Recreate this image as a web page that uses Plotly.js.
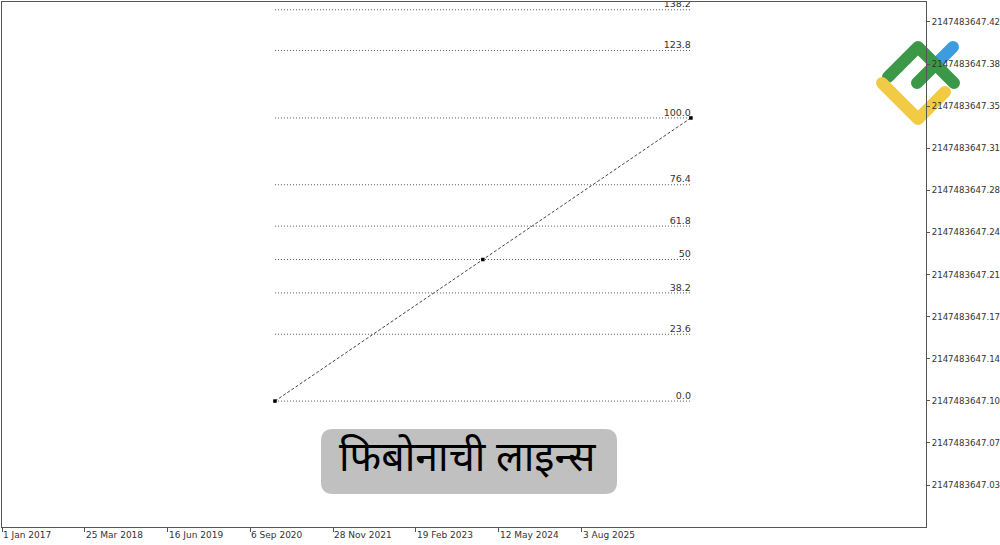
<!DOCTYPE html>
<html>
<head>
<meta charset="utf-8">
<script src="https://cdn.plot.ly/plotly-3.0.1.min.js"></script>
<style>html,body{margin:0;padding:0;background:#fff;}#chart{width:1000px;height:545px;}</style>
</head>
<body>
<div id="chart"></div>
<script>
// ---- data ----
const yTickVals = [0.035, 0.07, 0.105, 0.14, 0.175, 0.21, 0.245, 0.28, 0.315, 0.35, 0.385, 0.42];
const yTickText = ['2147483647.03', '2147483647.07', '2147483647.10', '2147483647.14', '2147483647.17', '2147483647.21',
                   '2147483647.24', '2147483647.28', '2147483647.31', '2147483647.35', '2147483647.38', '2147483647.42'];
const xTickDates = ['2017-01-01', '2018-03-25', '2019-06-16', '2020-09-06', '2021-11-28', '2023-02-19', '2024-05-12', '2025-08-03'];
const xTickText = ['1 Jan 2017', '25 Mar 2018', '16 Jun 2019', '6 Sep 2020', '28 Nov 2021', '19 Feb 2023', '12 May 2024', '3 Aug 2025'];
const anchorDates = ['2021-01-17', '2024-02-16', '2027-03-18'];
const anchorPrices = [0.1048, 0.2225, 0.3402];
const fibLevels = [0, 23.6, 38.2, 50, 61.8, 76.4, 100, 123.8, 138.2];
const fibLabels = ['0.0', '23.6', '38.2', '50', '61.8', '76.4', '100.0', '123.8', '138.2'];
const titleText = 'फिबोनाची लाइन्स';

// ---- build ----
const p0 = anchorPrices[0], p1 = anchorPrices[2];
const levelPrice = l => p0 + (p1 - p0) * l / 100;
const traces = [];
fibLevels.forEach((l, i) => {
  traces.push({
    type: 'scatter', mode: 'lines',
    x: [anchorDates[0], anchorDates[2]], y: [levelPrice(l), levelPrice(l)],
    line: {color: '#555', width: 1, dash: '1px,2px'}
  });
});
traces.push({
  type: 'scatter', mode: 'text',
  x: fibLevels.map(() => anchorDates[2]), y: fibLevels.map(levelPrice),
  text: fibLabels, textposition: 'top left', cliponaxis: true,
  textfont: {family: 'DejaVu Sans', size: 9.5, color: '#333'}
});
traces.push({
  type: 'scatter', mode: 'lines+markers',
  x: anchorDates, y: anchorPrices,
  line: {color: '#444', width: 1, dash: '3px,2px'},
  marker: {symbol: 'square', size: 3.5, color: '#000'}
});

const W = 924, H = 525, L = 2, T = 2;
const px = x => (x - L) / W, py = y => 1 - (y - T) / H;
const bx0 = px(321), bx1 = px(617), by0 = py(494), by1 = py(429);
const rx = 12 / W, ry = 12 / H;
const boxPath = `M${bx0 + rx},${by1} L${bx1 - rx},${by1} Q${bx1},${by1} ${bx1},${by1 - ry} L${bx1},${by0 + ry} Q${bx1},${by0} ${bx1 - rx},${by0} L${bx0 + rx},${by0} Q${bx0},${by0} ${bx0},${by0 + ry} L${bx0},${by1 - ry} Q${bx0},${by1} ${bx0 + rx},${by1} Z`;

const logoSvg = `<svg xmlns="http://www.w3.org/2000/svg" width="100" height="100" viewBox="868 32 100 100">
<g fill="none" stroke-linecap="round" stroke-linejoin="round" stroke-width="12">
<path d="M953,47 L935,65" stroke="#3d9be0"/>
<path d="M888,77 L918,47 L954,83 M935,65 L917,83" stroke="#3b9849"/>
<path d="M882,83 L918,119 L945,92" stroke="#f2cb45"/>
</g></svg>`;

const annotations = xTickDates.map((d, i) => ({
  x: d, y: 0, xref: 'x', yref: 'paper', text: xTickText[i], showarrow: false,
  xanchor: 'left', yanchor: 'top', xshift: -1, yshift: -1,
  font: {family: 'DejaVu Sans', size: 9, color: '#333'}
}));
annotations.push({
  x: px(468), y: py(461), xref: 'paper', yref: 'paper', text: titleText, showarrow: false,
  xanchor: 'center', yanchor: 'middle',
  font: {family: "'Noto Sans Devanagari', 'Noto Sans', sans-serif", size: 41, color: '#000'}
});

const layout = {
  width: 1000, height: 545,
  margin: {l: 2, r: 74, t: 2, b: 18, pad: 0},
  paper_bgcolor: '#fff', plot_bgcolor: '#fff',
  showlegend: false, hovermode: false,
  xaxis: {
    type: 'date', range: ['2017-01-01', '2030-09-10'],
    tickvals: xTickDates, ticks: 'outside', ticklen: 4, tickcolor: '#555',
    showticklabels: false, showgrid: false, zeroline: false,
    showline: true, mirror: true, linecolor: '#555', linewidth: 1
  },
  yaxis: {
    side: 'right', range: [0.0001, 0.4366],
    tickvals: yTickVals, ticktext: yTickText, ticks: 'outside', ticklen: 3, tickcolor: '#555',
    tickfont: {family: 'DejaVu Sans', size: 8.6, color: '#333'},
    showgrid: false, zeroline: false,
    showline: true, mirror: true, linecolor: '#555', linewidth: 1
  },
  shapes: [{type: 'path', xref: 'paper', yref: 'paper', path: boxPath, fillcolor: '#c0c0c0', line: {width: 0}, layer: 'above'}],
  images: [{
    source: 'data:image/svg+xml;charset=utf-8,' + encodeURIComponent(logoSvg),
    xref: 'paper', yref: 'paper', x: px(868), y: py(32), sizex: 100 / W, sizey: 100 / H,
    xanchor: 'left', yanchor: 'top', sizing: 'stretch', layer: 'below'
  }],
  annotations: annotations
};

Plotly.newPlot('chart', traces, layout, {displayModeBar: false, staticPlot: true});
</script>
</body>
</html>
